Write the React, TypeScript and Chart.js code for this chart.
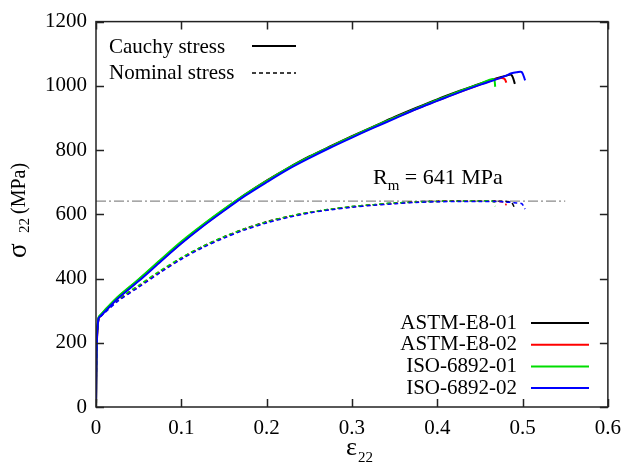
import React, { useEffect, useRef } from "react";
import { Chart, registerables } from "chart.js";

Chart.register(...registerables);

// ---------- data ----------
const X_TICKS = [0, 0.1, 0.2, 0.3, 0.4, 0.5, 0.6];
const Y_TICKS = [0, 200, 400, 600, 800, 1000, 1200];

const STRAIN_BODY = [0, 0.001, 0.003, 0.006, 0.01, 0.025, 0.05, 0.075, 0.1, 0.125, 0.15, 0.175, 0.2, 0.225, 0.25, 0.275, 0.3, 0.325, 0.35, 0.375, 0.4, 0.425, 0.45];

const ASTM01_CAUCHY = [0, 205, 277, 287, 299, 340, 396, 455, 513, 566, 615, 662, 705, 744, 780, 812, 843, 873, 903, 931, 958, 983, 1007];
const ASTM02_CAUCHY = [0, 198, 275, 285, 297, 338, 394, 453, 511, 564, 613, 660, 703, 742, 777, 810, 841, 871, 900, 928, 954, 980, 1004];
const ISO01_CAUCHY = [0, 210, 279, 289, 301, 342, 398, 457, 515, 567, 616, 662, 704, 744, 779, 811, 842, 872, 901, 929, 956, 982, 1006];
const ISO02_CAUCHY = [0, 200, 276, 285, 296, 336, 392, 451, 509, 562, 611, 658, 700, 740, 775, 808, 839, 869, 898, 927, 953, 979, 1003];

const ASTM01_NOMINAL = [0, 205, 276, 285, 296, 332, 377, 422, 464, 500, 530, 556, 577, 593, 606, 616, 624, 630, 635, 639, 641, 642, 642];
const ASTM02_NOMINAL = [0, 198, 274, 283, 294, 330, 375, 420, 462, 498, 528, 554, 575, 592, 605, 615, 623, 629, 634, 638, 640, 641, 641];
const ISO01_NOMINAL = [0, 210, 278, 287, 298, 334, 379, 424, 465, 500, 530, 555, 576, 593, 606, 616, 624, 630, 635, 638, 640, 641, 641];
const ISO02_NOMINAL = [0, 200, 275, 283, 293, 328, 373, 418, 460, 496, 526, 552, 573, 590, 604, 614, 622, 628, 633, 637, 639, 640, 640];

// end of each test (necking / fracture)
const ASTM01_TAIL_STRAIN = [0.47, 0.48, 0.487, 0.491];
const ASTM01_TAIL_CAUCHY = [1024, 1031, 1034, 1006];
const ASTM01_TAIL_NOMINAL = [641, 640, 637, 618];

const ASTM02_TAIL_STRAIN = [0.465, 0.475, 0.479, 0.481];
const ASTM02_TAIL_CAUCHY = [1018, 1024, 1021, 1010];
const ASTM02_TAIL_NOMINAL = [640, 639, 636, 628];

const ISO01_TAIL_STRAIN = [0.466, 0.468];
const ISO01_TAIL_CAUCHY = [1021, 997];
const ISO01_TAIL_NOMINAL = [640, 625];

const ISO02_TAIL_STRAIN = [0.47, 0.48, 0.487, 0.493, 0.499, 0.503];
const ISO02_TAIL_CAUCHY = [1021, 1031, 1039, 1042, 1043, 1017];
const ISO02_TAIL_NOMINAL = [640, 638, 637, 635, 633, 616];

const RM_VALUE = 641;
const RM_LINE_X = [0, 0.55];

const SPECIMENS = ["ASTM-E8-01", "ASTM-E8-02", "ISO-6892-01", "ISO-6892-02"];
const COLORS = ["#000000", "#ff0000", "#00dd00", "#0000ff"];

const SERIF = '"Liberation Serif", "Times New Roman", serif';

function pts(xs: number[], ys: number[]) {
  return xs.map((x, i) => ({ x, y: ys[i] }));
}

const specimenData = [
  { strain: [...STRAIN_BODY, ...ASTM01_TAIL_STRAIN], cauchy: [...ASTM01_CAUCHY, ...ASTM01_TAIL_CAUCHY], nominal: [...ASTM01_NOMINAL, ...ASTM01_TAIL_NOMINAL] },
  { strain: [...STRAIN_BODY, ...ASTM02_TAIL_STRAIN], cauchy: [...ASTM02_CAUCHY, ...ASTM02_TAIL_CAUCHY], nominal: [...ASTM02_NOMINAL, ...ASTM02_TAIL_NOMINAL] },
  { strain: [...STRAIN_BODY, ...ISO01_TAIL_STRAIN], cauchy: [...ISO01_CAUCHY, ...ISO01_TAIL_CAUCHY], nominal: [...ISO01_NOMINAL, ...ISO01_TAIL_NOMINAL] },
  { strain: [...STRAIN_BODY, ...ISO02_TAIL_STRAIN], cauchy: [...ISO02_CAUCHY, ...ISO02_TAIL_CAUCHY], nominal: [...ISO02_NOMINAL, ...ISO02_TAIL_NOMINAL] },
];

const decorPlugin = {
  id: "decor",
  afterDraw(chart: any) {
    const { ctx, chartArea: a, scales } = chart;
    const xs = scales.x;
    const ys = scales.y;
    ctx.save();
    // frame
    ctx.strokeStyle = "#222";
    ctx.lineWidth = 1.5;
    ctx.setLineDash([]);
    ctx.strokeRect(a.left, a.top, a.right - a.left, a.bottom - a.top);
    // inward ticks on all sides
    const TL = 8;
    ctx.beginPath();
    X_TICKS.forEach((v) => {
      const px = Math.round(xs.getPixelForValue(v)) + 0.5;
      ctx.moveTo(px, a.bottom);
      ctx.lineTo(px, a.bottom - TL);
      ctx.moveTo(px, a.top);
      ctx.lineTo(px, a.top + TL);
    });
    Y_TICKS.forEach((v) => {
      const py = Math.round(ys.getPixelForValue(v)) + 0.5;
      ctx.moveTo(a.left, py);
      ctx.lineTo(a.left + TL, py);
      ctx.moveTo(a.right, py);
      ctx.lineTo(a.right - TL, py);
    });
    ctx.stroke();

    ctx.fillStyle = "#000";
    // top-left legend
    ctx.font = `21px ${SERIF}`;
    ctx.textAlign = "left";
    ctx.textBaseline = "middle";
    ctx.fillText("Cauchy stress", 109, 47);
    ctx.fillText("Nominal stress", 109, 73);
    ctx.strokeStyle = "#000";
    ctx.lineWidth = 2;
    ctx.beginPath();
    ctx.moveTo(252, 46);
    ctx.lineTo(296, 46);
    ctx.stroke();
    ctx.lineWidth = 1.5;
    ctx.setLineDash([4, 3]);
    ctx.beginPath();
    ctx.moveTo(252, 73);
    ctx.lineTo(296, 73);
    ctx.stroke();
    ctx.setLineDash([]);

    // bottom-right legend
    SPECIMENS.forEach((name, i) => {
      const yy = 323 + i * 21.7;
      ctx.textAlign = "right";
      ctx.fillStyle = "#000";
      ctx.fillText(name, 517, yy);
      ctx.strokeStyle = COLORS[i];
      ctx.lineWidth = 2;
      ctx.beginPath();
      ctx.moveTo(531, yy);
      ctx.lineTo(589, yy);
      ctx.stroke();
    });

    // Rm label
    ctx.textAlign = "left";
    ctx.textBaseline = "alphabetic";
    ctx.fillStyle = "#000";
    let tx = 373;
    ctx.font = `22px ${SERIF}`;
    ctx.fillText("R", tx, 184);
    tx += ctx.measureText("R").width;
    ctx.font = `15px ${SERIF}`;
    ctx.fillText("m", tx, 190);
    tx += ctx.measureText("m").width;
    ctx.font = `22px ${SERIF}`;
    ctx.fillText(" = 641 MPa", tx, 184);

    // x title
    ctx.font = `26px ${SERIF}`;
    ctx.textBaseline = "middle";
    ctx.fillText("\u03b5", 346, 448);
    const ew = ctx.measureText("\u03b5").width;
    ctx.font = `15px ${SERIF}`;
    ctx.fillText("22", 346 + ew + 1, 458);

    // y title (rotated)
    ctx.save();
    ctx.translate(20, 210);
    ctx.rotate(-Math.PI / 2);
    ctx.textAlign = "left";
    ctx.textBaseline = "middle";
    ctx.font = `27px ${SERIF}`;
    ctx.fillText("\u03c3", -48, -1);
    ctx.font = `15px ${SERIF}`;
    ctx.fillText("22", -23, 5);
    ctx.font = `20px ${SERIF}`;
    ctx.fillText("(MPa)", -4, 0);
    ctx.restore();

    ctx.restore();
  },
};

export default function App() {
  const ref = useRef<HTMLCanvasElement | null>(null);
  useEffect(() => {
    if (!ref.current) return;
    const datasets: any[] = [];
    // Rm reference line
    datasets.push({
      data: pts(RM_LINE_X, [RM_VALUE, RM_VALUE]),
      borderColor: "#8a8a8a",
      borderWidth: 1.3,
      borderDash: [10, 3, 2, 3],
      pointRadius: 0,
      order: 20,
    });
    specimenData.forEach((s, i) => {
      datasets.push({
        data: pts(s.strain, s.cauchy),
        borderColor: COLORS[i],
        borderWidth: 2,
        pointRadius: 0,
        tension: 0.3,
        order: 10 - i,
      });
      datasets.push({
        data: pts(s.strain, s.nominal),
        borderColor: COLORS[i],
        borderWidth: 1.5,
        borderDash: [4, 3],
        pointRadius: 0,
        tension: 0.3,
        order: 10 - i,
      });
    });
    const chart = new Chart(ref.current, {
      type: "line",
      data: { datasets },
      options: {
        animation: false,
        responsive: false,
        maintainAspectRatio: false,
        layout: { padding: { left: 0, right: 15, top: 14, bottom: 0 } },
        plugins: { legend: { display: false }, tooltip: { enabled: false } },
        elements: { line: { capBezierPoints: true } },
        scales: {
          x: {
            type: "linear",
            min: 0,
            max: 0.6,
            afterFit: (s: any) => { s.height = 59; },
            afterBuildTicks: (s: any) => { s.ticks = X_TICKS.map((v) => ({ value: v })); },
            grid: { display: false, drawTicks: false },
            border: { display: false },
            ticks: {
              color: "#000",
              padding: 9,
              maxRotation: 0,
              font: { family: SERIF, size: 21 },
              callback: (v: any) => String(Math.round(Number(v) * 10) / 10),
            },
          },
          y: {
            type: "linear",
            min: 0,
            max: 1200,
            afterFit: (s: any) => { s.width = 96; },
            afterBuildTicks: (s: any) => { s.ticks = Y_TICKS.map((v) => ({ value: v })); },
            grid: { display: false, drawTicks: false },
            border: { display: false },
            ticks: {
              color: "#000",
              padding: 9,
              font: { family: SERIF, size: 21 },
              callback: (v: any) => String(v),
            },
          },
        },
      },
      plugins: [decorPlugin],
    });
    return () => chart.destroy();
  }, []);
  return (
    <div style={{ position: "fixed", left: 0, top: 0, width: 630, height: 466, background: "#fff" }}>
      <canvas ref={ref} width={630} height={466} style={{ display: "block", width: 630, height: 466 }} />
    </div>
  );
}
